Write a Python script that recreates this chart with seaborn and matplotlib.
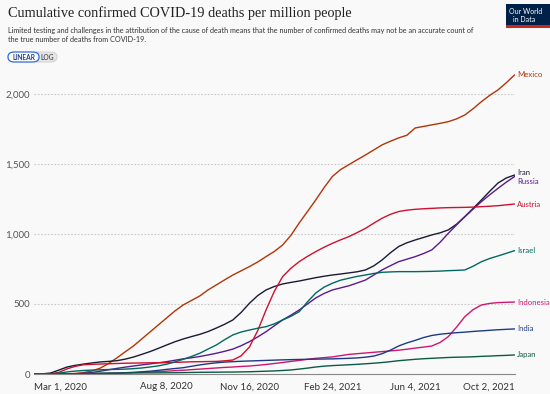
import numpy as np
import pandas as pd
import matplotlib
matplotlib.use("Agg")
import matplotlib.pyplot as plt
from matplotlib.patches import FancyBboxPatch, Rectangle
import seaborn as sns

# Shared date grid: every 10 days from 1 Mar 2020 to 2 Oct 2021 (59 points)
dates = pd.date_range("2020-03-01", periods=59, freq="10D")

mexico = [0, 0, 0, 0, 1, 4, 10, 22, 42, 75,
          115, 158, 200, 250, 300, 350, 400, 450, 493, 525,
          557, 600, 636, 672, 707, 737, 767, 800, 838, 875,
          921, 990, 1078, 1160, 1243, 1330, 1410, 1460, 1495, 1530,
          1564, 1600, 1636, 1662, 1686, 1705, 1757, 1768, 1779, 1790,
          1802, 1822, 1850, 1895, 1945, 1990, 2029, 2080, 2136]
iran = [0, 1, 7, 28, 50, 62, 71, 79, 86, 90,
        95, 106, 121, 140, 160, 183, 207, 230, 250, 267,
        283, 303, 328, 355, 386, 440, 505, 560, 600, 625,
        643, 654, 664, 676, 688, 698, 707, 714, 722, 730,
        743, 772, 814, 865, 910, 937, 957, 975, 993, 1008,
        1029, 1070, 1124, 1183, 1243, 1305, 1364, 1400, 1421]
russia = [0, 0, 0, 0.5, 1, 2, 5, 11, 20, 30,
          40, 49, 57, 65, 72, 80, 88, 98, 108, 116,
          125, 136, 148, 162, 178, 202, 231, 265, 302, 344,
          386, 420, 457, 500, 543, 575, 600, 615, 630, 650,
          671, 707, 743, 773, 802, 820, 838, 860, 886, 940,
          1005, 1065, 1124, 1178, 1231, 1280, 1326, 1370, 1410]
austria = [0, 0, 1, 12, 37, 55, 66, 69, 71, 73,
           75, 77, 78, 79, 80, 80.5, 81, 83, 85, 87,
           88, 89, 90, 94, 100, 130, 193, 310, 457, 590,
           695, 755, 802, 840, 874, 905, 933, 958, 981, 1010,
           1040, 1077, 1112, 1140, 1160, 1170, 1176, 1180, 1183, 1186,
           1188, 1189, 1190, 1192, 1195, 1198, 1202, 1208, 1214]
israel = [0, 0, 1, 6, 15, 21, 25, 28, 30, 32,
          33, 35, 38, 43, 50, 58, 70, 86, 105, 125,
          148, 178, 207, 245, 279, 300, 314, 327, 338, 358,
          386, 412, 445, 515, 578, 620, 648, 670, 684, 697,
          707, 718, 726, 729, 731, 731, 731, 732, 733, 735,
          738, 740, 743, 770, 802, 825, 843, 862, 881]
indonesia = [0, 0, 0, 0.5, 1, 1.5, 2, 2.5, 3, 4,
             5, 7, 9, 11, 14, 17, 20, 24, 27, 31,
             35, 39, 43, 47, 50, 54, 57, 62, 68, 75,
             82, 90, 97, 105, 112, 117, 122, 131, 140, 145,
             150, 155, 160, 165, 170, 177, 185, 192, 200, 225,
             267, 335, 410, 460, 493, 504, 510, 512, 514]
india = [0, 0, 0, 0.2, 0.5, 1, 1.5, 2, 3, 4.5,
         6, 9, 12, 16, 20, 26, 33, 39, 45, 55,
         65, 73, 80, 85, 88, 91, 93, 95, 97, 99,
         101, 102.5, 104, 105, 106, 107, 108, 110, 112, 115,
         120, 128, 145, 170, 200, 222, 240, 260, 275, 284,
         290, 295, 299, 304, 308, 312, 316, 319, 322]
japan = [0, 0.2, 0.5, 0.7, 1, 2, 3, 4.5, 6, 6.5,
         7, 7.5, 8, 8, 8, 8.2, 8.5, 9, 10, 11,
         12, 12.5, 13, 13.5, 14, 15, 16, 18, 20, 22,
         25, 29, 35, 42, 50, 56, 60, 63, 66, 69,
         73, 77, 82, 88, 95, 100, 105, 109, 112, 115,
         118, 120, 121, 123, 126, 128, 131, 133, 136]

countries = ["Mexico", "Iran", "Russia", "Austria", "Israel", "Indonesia",
             "India", "Japan"]
series = [mexico, iran, russia, austria, israel, indonesia, india, japan]
colors = {"Mexico": "#B13507", "Iran": "#1A1A35", "Russia": "#5B1A8E",
          "Austria": "#D0102E", "Israel": "#00695F", "Indonesia": "#D0166F",
          "India": "#1C3A85", "Japan": "#0B5A46"}
label_y = {"Mexico": 2136, "Iran": 1440, "Russia": 1375, "Austria": 1214,
           "Israel": 881, "Indonesia": 514, "India": 322, "Japan": 136}

ytick_vals = [0, 500, 1000, 1500, 2000]
ytick_labels = ["0", "500", "1,000", "1,500", "2,000"]
xtick_dates = ["2020-03-01", "2020-08-08", "2020-11-16", "2021-02-24",
               "2021-06-04", "2021-10-02"]
xtick_labels = ["Mar 1, 2020", "Aug 8, 2020", "Nov 16, 2020", "Feb 24, 2021",
                "Jun 4, 2021", "Oct 2, 2021"]

df = pd.concat([pd.DataFrame({"date": dates, "value": v, "country": c})
                for c, v in zip(countries, series)], ignore_index=True)

sns.set_theme(style="white")
plt.rcParams["font.family"] = ["Lato", "DejaVu Sans"]
bg = "#F9F9F9"

fig = plt.figure(figsize=(5.5, 3.94), dpi=100, facecolor=bg)
ax = fig.add_axes([34 / 550, 1 - 374 / 394, (514.6 - 34) / 550, (374 - 70) / 394])
ax.set_facecolor(bg)

sns.lineplot(data=df, x="date", y="value", hue="country", palette=colors,
             hue_order=countries, linewidth=1.0, legend=False, ax=ax)

x0 = pd.Timestamp("2020-03-01")
x1 = pd.Timestamp("2021-10-02")
ax.set_xlim(x0, x1)
ax.set_ylim(0, 2171)

for v in ytick_vals[1:]:
    ax.axhline(v, color="#C8C8C8", lw=0.8, ls=(0, (1.5, 1.5)), zorder=0)

ax.set_yticks(ytick_vals)
ax.set_yticklabels(ytick_labels)
ax.set_xticks([pd.Timestamp(d) for d in xtick_dates])
ax.set_xticklabels(xtick_labels)
ax.tick_params(axis="y", length=0, pad=3, labelsize=7, labelcolor="#555555")
ax.tick_params(axis="x", length=4, width=0.6, color="#888888", pad=2,
               labelsize=7, labelcolor="#333333", direction="out")
xl = ax.get_xticklabels()
xl[0].set_ha("left")
xl[-1].set_ha("right")
ax.set_xlabel("")
ax.set_ylabel("")
for s in ["top", "right", "left"]:
    ax.spines[s].set_visible(False)
ax.spines["bottom"].set_color("#888888")
ax.spines["bottom"].set_linewidth(0.8)

for c in countries:
    ax.annotate(c, xy=(x1, label_y[c]), xytext=(2, 0), textcoords="offset points",
                va="center", ha="left", fontsize=5.6, color=colors[c],
                annotation_clip=False)

# Title and subtitle
fig.text(8 / 550, 1 - 13 / 394, "Cumulative confirmed COVID-19 deaths per million people",
         family=["Liberation Serif", "DejaVu Serif"], fontsize=10.3, color="#222222",
         va="center", ha="left")
fig.text(8 / 550, 1 - 35 / 394,
         "Limited testing and challenges in the attribution of the cause of death means that the number of confirmed deaths may not be an accurate count of\nthe true number of deaths from COVID-19.",
         fontsize=5.25, color="#333333", va="center", ha="left", linespacing=1.35)

# LINEAR / LOG toggle
fig.patches.append(FancyBboxPatch((31 / 550, 1 - 62 / 394), 26 / 550, 10 / 394,
                                  boxstyle="round,pad=0,rounding_size=0.012",
                                  transform=fig.transFigure, fc="#E6E6E6",
                                  ec="#CCCCCC", lw=0.6))
fig.patches.append(FancyBboxPatch((8 / 550, 1 - 62 / 394), 31 / 550, 10 / 394,
                                  boxstyle="round,pad=0,rounding_size=0.012",
                                  transform=fig.transFigure, fc="#FFFFFF",
                                  ec="#2F6AD6", lw=0.9))
fig.text(23.5 / 550, 1 - 57 / 394, "LINEAR", fontsize=4.8, weight="bold",
         color="#1D3D87", ha="center", va="center")
fig.text(47 / 550, 1 - 57 / 394, "LOG", fontsize=4.8, weight="bold",
         color="#555555", ha="center", va="center")

# Logo
fig.patches.append(Rectangle((506 / 550, 1 - 25 / 394), 44 / 550, 21 / 394,
                             transform=fig.transFigure, fc="#002147", ec="none"))
fig.patches.append(Rectangle((506 / 550, 1 - 28 / 394), 44 / 550, 3 / 394,
                             transform=fig.transFigure, fc="#CE261E", ec="none"))
fig.text(509 / 550, 1 - 11 / 394, "Our World", fontsize=5, color="white",
         ha="left", va="center")
fig.text(513 / 550, 1 - 19 / 394, "in Data", fontsize=5, color="white",
         ha="left", va="center")

fig.savefig("out.png", dpi=100, facecolor=bg)
